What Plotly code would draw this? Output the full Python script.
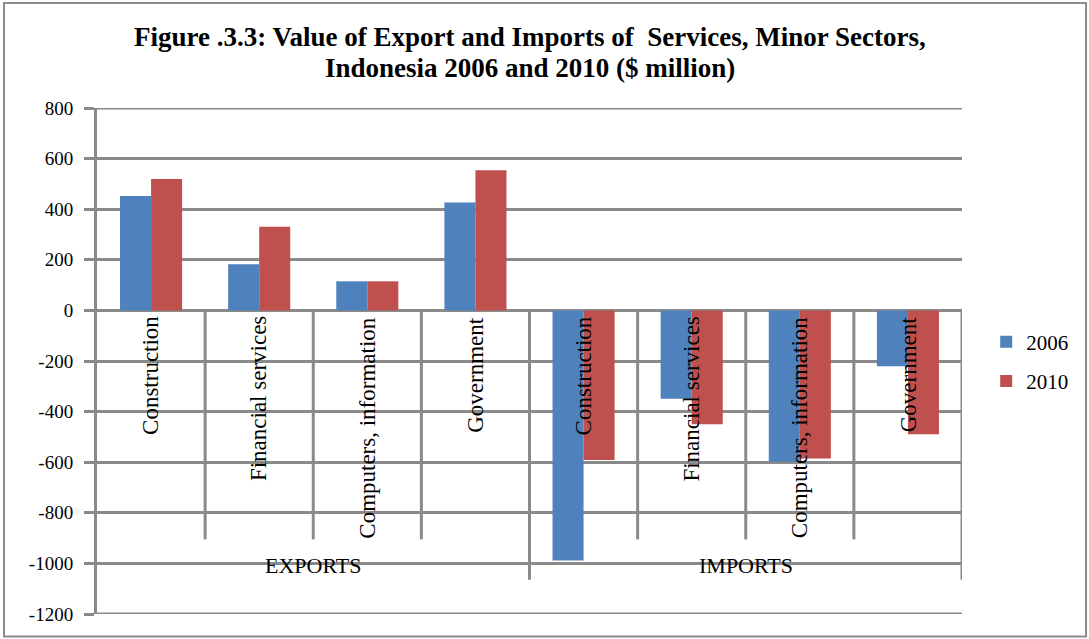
import plotly.graph_objects as go

# Services trade, minor sectors ($ million)
sectors = ["Construction", "Financial services", "Computers, information", "Government"]
groups = ["EXPORTS", "IMPORTS"]
exports_2006 = [452, 182, 115, 426]
exports_2010 = [519, 331, 115, 554]
imports_2006 = [-989, -349, -598, -221]
imports_2010 = [-591, -450, -585, -490]

series_2006 = exports_2006 + imports_2006
series_2010 = exports_2010 + imports_2010
categories = sectors + sectors
positions = list(range(len(categories)))

y_ticks = list(range(-1200, 801, 200))
title_lines = [
    "Figure .3.3: Value of Export and Imports of  Services, Minor Sectors,",
    "Indonesia 2006 and 2010 ($ million)",
]

BLUE = "#4F81BD"
RED = "#C0504D"
GRID = "#8A8A8A"
FONT = "Liberation Serif"

fig = go.Figure()
fig.add_trace(go.Bar(
    x=positions, y=series_2006, name="2006", marker=dict(color=BLUE, line=dict(width=0)),
    legendgroup="a",
))
fig.add_trace(go.Bar(
    x=positions, y=series_2010, name="2010", marker=dict(color=RED, line=dict(width=0)),
    legendgroup="b",
))

# category labels, rotated, hanging below the zero line
for pos, label in zip(positions, categories):
    fig.add_annotation(
        x=pos, y=0, xref="x", yref="y", text=label, showarrow=False,
        textangle=-90, xanchor="center", yanchor="top", yshift=-4,
        font=dict(family=FONT, size=23, color="#000000"),
    )

# group labels
n = len(sectors)
for gi, g in enumerate(groups):
    fig.add_annotation(
        x=gi * n + (n - 1) / 2, y=-1010, xref="x", yref="y", text=g, showarrow=False,
        xanchor="center", yanchor="middle",
        font=dict(family=FONT, size=22, color="#000000"),
    )

# two-line title
for ty, line in zip([1.140, 1.079], title_lines):
    fig.add_annotation(
        x=0.5, y=ty, xref="paper", yref="paper", text="<b>" + line + "</b>", showarrow=False,
        xanchor="center", yanchor="middle",
        font=dict(family=FONT, size=27, color="#000000"),
    )

line_style = dict(color=GRID, width=3)
x_lo, x_hi = -0.5, len(categories) - 0.5
# top and bottom grid lines at the range ends
for yv in (y_ticks[0], y_ticks[-1]):
    fig.add_shape(type="line", x0=x_lo, x1=x_hi, y0=yv, y1=yv, xref="x", yref="y", line=line_style)
# inner category dividers
for k in range(len(categories) + 1):
    xk = k - 0.5
    if k % n == 0:
        continue
    fig.add_shape(type="line", x0=xk, x1=xk, y0=0, y1=-905, xref="x", yref="y", line=line_style)
# group dividers
for k in range(1, len(groups) + 1):
    xk = k * n - 0.5
    fig.add_shape(type="line", x0=xk, x1=xk, y0=0, y1=-1065, xref="x", yref="y", line=line_style)

# chart frame
fig.add_shape(type="rect", xref="paper", yref="paper",
              x0=-0.1075, x1=1.1434, y0=-0.0445, y1=1.2075,
              line=dict(color="#8C8C8C", width=2), fillcolor="rgba(0,0,0,0)", layer="below")

fig.update_layout(
    width=1089, height=639,
    margin=dict(l=97, r=127, t=108, b=25),
    paper_bgcolor="white", plot_bgcolor="white",
    font=dict(family=FONT, color="#000000"),
    barmode="group", bargap=0.426, bargroupgap=0,
    showlegend=True,
    legend=dict(
        x=1.028, y=0.578, xanchor="left", yanchor="top",
        font=dict(family=FONT, size=21, color="#000000"),
        tracegroupgap=9, traceorder="grouped",
        bgcolor="rgba(0,0,0,0)",
    ),
    xaxis=dict(
        range=[x_lo, x_hi], showticklabels=False, showgrid=False,
        zeroline=False, showline=False, ticks="",
    ),
    yaxis=dict(
        range=[y_ticks[0], y_ticks[-1]], tickvals=y_ticks, ticktext=[str(v) for v in y_ticks],
        showgrid=True, gridcolor=GRID, gridwidth=3,
        zeroline=False, showline=True, linecolor=GRID, linewidth=3,
        ticks="outside", ticklen=10, tickwidth=3, tickcolor=GRID,
        ticklabelstandoff=7,
        tickfont=dict(family=FONT, size=19, color="#000000"),
    ),
)

fig.write_html("out.html")
